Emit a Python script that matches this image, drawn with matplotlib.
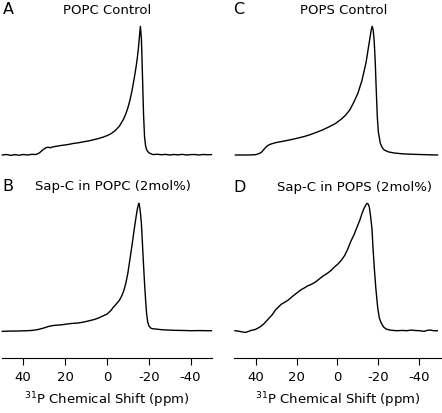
import matplotlib
matplotlib.use("Agg")
import matplotlib.pyplot as plt

W, H = 442, 414

# ---- data (ppm, normalized intensity) ----
ppm_A = [50, 48, 46, 44, 42, 40, 38, 36, 34, 33, 32, 31, 30, 29, 28, 27, 26, 24, 22, 20,
         18, 16, 14, 12, 10, 8, 6, 4, 2, 0, -2, -4, -6, -8, -9, -10, -11, -12, -13, -14,
         -14.5, -15, -15.5, -16, -16.5, -17, -17.5, -18, -18.5, -19, -20, -21, -22, -24,
         -26, -28, -30, -32, -34, -36, -38, -40, -42, -44, -46, -48, -50]
int_A = [0.0, 0.004, -0.003, 0.003, -0.002, 0.004, 0.0, 0.005, 0.004, 0.01, 0.02, 0.035,
         0.047, 0.058, 0.06, 0.056, 0.063, 0.068, 0.074, 0.078, 0.083, 0.09, 0.094, 0.1,
         0.106, 0.112, 0.12, 0.128, 0.138, 0.15, 0.166, 0.19, 0.225, 0.28, 0.318, 0.365,
         0.425, 0.50, 0.59, 0.69, 0.75, 0.82, 0.91, 1.0, 0.90, 0.62, 0.32, 0.14, 0.07,
         0.04, 0.018, 0.01, 0.003, 0.006, 0.002, 0.005, 0.0, 0.004, 0.001, 0.005, 0.0,
         0.003, 0.004, 0.0, 0.004, 0.002, 0.003]

ppm_B = [50, 46, 42, 38, 36, 34, 32, 30, 28, 26, 24, 22, 20, 18, 16, 14, 12, 10, 8, 6, 4,
         2, 0, -2, -3, -4, -5, -6, -7, -8, -9, -10, -11, -12, -13, -14, -14.5, -15, -15.3,
         -15.6, -16, -16.5, -17, -17.5, -18, -18.5, -19, -19.5, -20, -21, -22, -24, -26,
         -28, -32, -36, -40, -44, -48, -50]
int_B = [-0.005, -0.003, -0.002, 0.0, 0.002, 0.006, 0.013, 0.022, 0.033, 0.04, 0.043,
         0.046, 0.05, 0.055, 0.058, 0.06, 0.065, 0.072, 0.08, 0.088, 0.1, 0.115, 0.13,
         0.16, 0.183, 0.2, 0.22, 0.24, 0.27, 0.31, 0.37, 0.45, 0.56, 0.67, 0.79, 0.90,
         0.95, 0.985, 1.0, 0.98, 0.93, 0.84, 0.68, 0.52, 0.37, 0.24, 0.13, 0.07, 0.04,
         0.02, 0.015, 0.012, 0.008, 0.006, 0.003, 0.002, 0.0, 0.001, 0.0, 0.0]

ppm_C = [50, 45, 42, 40, 39, 38, 37, 36.5, 36, 35, 34, 33, 32, 30, 28, 25, 22, 19, 16, 13,
         10, 7, 4, 1, -2, -4, -6, -8, -10, -11, -12, -13, -14, -15, -15.5, -16, -16.5, -17,
         -17.5, -18, -18.5, -19, -19.5, -20, -21, -22, -23, -25, -28, -32, -36, -40, -44, -49]
int_C = [0.0, 0.0, 0.001, 0.003, 0.008, 0.014, 0.025, 0.035, 0.045, 0.062, 0.075, 0.083,
         0.088, 0.097, 0.103, 0.112, 0.122, 0.133, 0.145, 0.16, 0.178, 0.197, 0.22, 0.245,
         0.28, 0.31, 0.35, 0.41, 0.48, 0.53, 0.58, 0.65, 0.72, 0.82, 0.87, 0.92, 0.97, 1.0,
         0.97, 0.88, 0.72, 0.5, 0.3, 0.18, 0.09, 0.055, 0.038, 0.024, 0.015, 0.009, 0.006,
         0.004, 0.002, 0.0]

ppm_D = [50.2, 48, 46, 45, 44, 42, 40.5, 39, 37.5, 36, 34, 32, 30.5, 29, 27.5, 26, 24, 22,
         20, 18, 16, 14.5, 13, 11, 9, 7, 5, 3, 1.5, 0, -2, -3.5, -5, -6.5, -8, -9.5, -11,
         -12, -13, -14, -14.5, -15, -15.6, -16.2, -16.9, -17.4, -18, -18.8, -19.7, -20.5,
         -21.3, -22.5, -23.8, -26, -29, -32, -34, -36, -38, -40, -42.4, -44, -45.7, -47, -48.9]
int_D = [0.0, -0.005, -0.012, -0.013, -0.008, 0.004, 0.008, 0.02, 0.035, 0.055, 0.09,
         0.125, 0.16, 0.185, 0.208, 0.222, 0.242, 0.27, 0.295, 0.32, 0.338, 0.353, 0.362,
         0.38, 0.405, 0.43, 0.45, 0.475, 0.5, 0.52, 0.555, 0.59, 0.64, 0.7, 0.75, 0.81,
         0.87, 0.92, 0.96, 0.99, 1.0, 0.995, 0.97, 0.9, 0.8, 0.65, 0.5, 0.33, 0.18, 0.1,
         0.065, 0.03, 0.013, 0.004, 0.0, 0.002, 0.0, 0.005, 0.002, 0.0, -0.005, 0.003,
         0.005, 0.0, 0.0]

panel_letters = ["A", "B", "C", "D"]
titles = ["POPC Control", "Sap-C in POPC (2mol%)", "POPS Control", "Sap-C in POPS (2mol%)"]
xticks = [40, 20, 0, -20, -40]
xlabel = r"$^{31}$P Chemical Shift (ppm)"

plt.rcParams['font.family'] = ['DejaVu Sans']
plt.rcParams['mathtext.default'] = 'regular'

fig = plt.figure(figsize=(W / 100, H / 100), dpi=100)

def fx(px):
    return px / W

def fy(py):
    return 1 - py / H

# column geometry (pixels)
cols = [dict(left=1.7, width=210.0, xlim=(50.3, -50.1)),
        dict(left=234.0, width=208.0, xlim=(50.7, -51.2))]

data = [(ppm_A, int_A), (ppm_B, int_B), (ppm_C, int_C), (ppm_D, int_D)]
lw = 1.0

for ci, col in enumerate(cols):
    # top panel: baseline at 156 px, peak at 27.3 px
    ax_t = fig.add_axes([fx(col['left']), fy(156), fx(col['width']), (156 - 27.3) / H])
    ax_t.set_xlim(*col['xlim'])
    ax_t.set_ylim(0, 1)
    x, y = data[ci * 2]
    ax_t.plot(x, y, color='black', lw=lw, clip_on=False)
    ax_t.axis('off')

    # bottom panel: spine at 359 px, baseline 331.7, peak 204.3
    unit = 331.7 - 204.3
    ax_b = fig.add_axes([fx(col['left']), fy(359), fx(col['width']), (359 - 204.3) / H])
    ax_b.set_xlim(*col['xlim'])
    ax_b.set_ylim(-(359 - 331.7) / unit, 1)
    x, y = data[ci * 2 + 1]
    ax_b.plot(x, y, color='black', lw=lw, clip_on=False)
    for s in ['top', 'left', 'right']:
        ax_b.spines[s].set_visible(False)
    ax_b.spines['bottom'].set_linewidth(0.8)
    ax_b.set_yticks([])
    ax_b.set_xticks(xticks)
    ax_b.set_xticklabels([str(t) for t in xticks])
    ax_b.tick_params(axis='x', direction='out', length=5, width=0.8, pad=4,
                     labelsize=9.5, colors='black')
    ax_b.set_xlabel(xlabel, fontsize=9.5, labelpad=4)

# texts
fig.text(fx(2.5), fy(10), panel_letters[0], fontsize=11.5, ha='left', va='center')
fig.text(fx(107), fy(10), titles[0], fontsize=9.5, ha='center', va='center')
fig.text(fx(2.5), fy(187), panel_letters[1], fontsize=11.5, ha='left', va='center')
fig.text(fx(112.5), fy(187), titles[1], fontsize=9.5, ha='center', va='center')
fig.text(fx(233.5), fy(10), panel_letters[2], fontsize=11.5, ha='left', va='center')
fig.text(fx(343.5), fy(10), titles[2], fontsize=9.5, ha='center', va='center')
fig.text(fx(233.5), fy(188), panel_letters[3], fontsize=11.5, ha='left', va='center')
fig.text(fx(354.5), fy(188), titles[3], fontsize=9.5, ha='center', va='center')

fig.savefig("out.png", dpi=100)
